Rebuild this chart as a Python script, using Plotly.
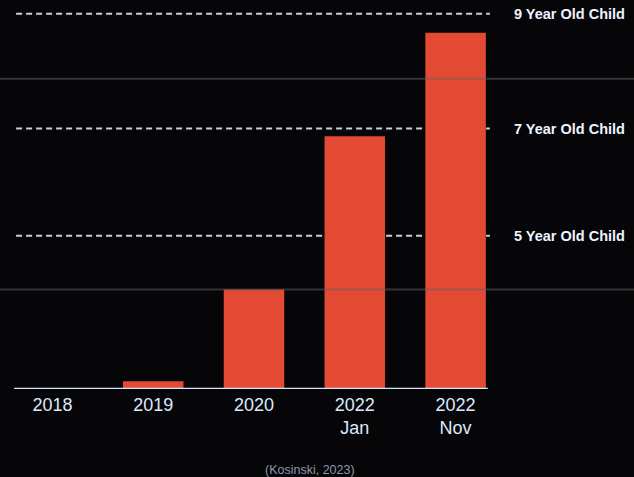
import plotly.graph_objects as go

categories = ["2018", "2019", "2020", "2022 Jan", "2022 Nov"]
tick_labels = ["2018", "2019", "2020", "2022<br>Jan", "2022<br>Nov"]
scores = [0, 2, 26, 66, 93]

child_levels = [98, 68, 40]
child_labels = ["9 Year Old Child", "7 Year Old Child", "5 Year Old Child"]

artifact_levels = [81, 26]  # faint horizontal bands seen in the photo

BG = "#060608"
BAR = "#e44a33"

fig = go.Figure()
fig.add_trace(go.Bar(
    x=categories, y=scores,
    marker=dict(color=BAR, line=dict(width=0)),
    width=0.6,
    hoverinfo="skip",
))

shapes = []
for lv in artifact_levels:
    shapes.append(dict(type="line", xref="paper", yref="y", x0=-0.01, x1=1.26, y0=lv, y1=lv,
                       line=dict(color="rgba(95,95,95,0.5)", width=2), layer="above"))
for lv in child_levels:
    shapes.append(dict(type="line", xref="x", yref="y", x0=-0.36, x1=4.34, y0=lv, y1=lv,
                       line=dict(color="#c9cfdc", width=2, dash="6px,4px"), layer="below"))
shapes.append(dict(type="line", xref="x", yref="y", x0=-0.38, x1=4.32, y0=-0.3, y1=-0.3,
                   line=dict(color="#d3e4fb", width=5), layer="above"))

annotations = []
for lv, txt in zip(child_levels, child_labels):
    annotations.append(dict(x=1.012, xref="paper", y=lv, yref="y", text="<b>" + txt + "</b>",
                            showarrow=False, xanchor="left", yanchor="middle",
                            font=dict(family="Liberation Sans", size=14.5, color="#eef3ff")))
annotations.append(dict(x=0.612, xref="paper", y=-0.212, yref="paper", text="(Kosinski, 2023)",
                        showarrow=False, xanchor="center", yanchor="middle",
                        font=dict(family="Liberation Sans", size=12.5, color="#8e97ad")))

fig.update_layout(
    width=634, height=477,
    margin=dict(l=2, r=128, t=6, b=88),
    paper_bgcolor=BG, plot_bgcolor=BG,
    showlegend=False,
    bargap=0.4,
    shapes=shapes,
    annotations=annotations,
    xaxis=dict(
        range=[-0.5, 4.5],
        tickmode="array", tickvals=categories, ticktext=tick_labels,
        tickfont=dict(family="Liberation Sans", size=18, color="#dce9ff"),
        showgrid=False, zeroline=False, showline=False, ticks="",
        ticklabelstandoff=3,
    ),
    yaxis=dict(range=[0, 100], visible=False, showgrid=False, zeroline=False),
)

fig.write_html(
    "out.html",
    config={"displayModeBar": False},
    post_script="document.body.style.margin='0';document.body.style.background='#060608';document.body.style.overflow='hidden';",
)
